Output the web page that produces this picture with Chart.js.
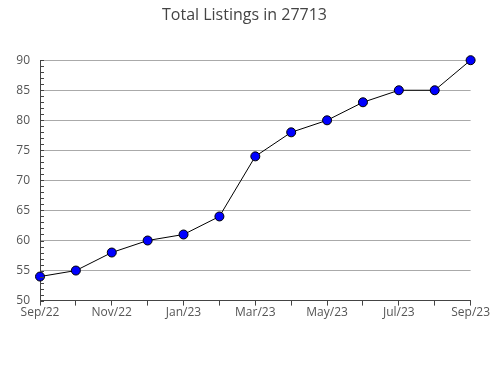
<!DOCTYPE html>
<html>
<head>
<meta charset="utf-8">
<script src="https://cdn.jsdelivr.net/npm/chart.js@4/dist/chart.umd.min.js"></script>
<style>
html,body{margin:0;padding:0;background:#fff;}
#wrap{width:490px;height:380px;position:relative;}
</style>
</head>
<body>
<div id="wrap"><canvas id="c"></canvas></div>
<script>
const months = ["Sep/22","Oct/22","Nov/22","Dec/22","Jan/23","Feb/23","Mar/23","Apr/23","May/23","Jun/23","Jul/23","Aug/23","Sep/23"];
const listings = [54,55,58,60,61,64,74,78,80,83,85,85,90];
const yMin = 50, yMax = 90, yStep = 5, yMinorStep = 1;
const titleText = "Total Listings in 27713";

const minorTicks = {
  id: 'minorTicks',
  afterDraw(chart) {
    const y = chart.scales.y, ctx = chart.ctx, left = chart.chartArea.left;
    ctx.save();
    ctx.strokeStyle = '#444';
    ctx.lineWidth = 1;
    ctx.beginPath();
    for (let v = yMin; v <= yMax; v += yMinorStep) {
      const py = Math.round(y.getPixelForValue(v)) + 0.5;
      ctx.moveTo(left, py);
      ctx.lineTo(left + 4, py);
    }
    ctx.stroke();
    ctx.restore();
  }
};

new Chart(document.getElementById('c'), {
  type: 'line',
  data: {
    labels: months,
    datasets: [{
      data: listings,
      borderColor: '#000',
      borderWidth: 1,
      tension: 0,
      pointBackgroundColor: '#0000ff',
      pointBorderColor: '#000',
      pointBorderWidth: 1,
      pointRadius: 4.5,
      clip: false
    }]
  },
  options: {
    responsive: true,
    maintainAspectRatio: false,
    animation: false,
    layout: { padding: { top: 0, right: 1, bottom: 60, left: 0 } },
    plugins: {
      legend: { display: false },
      tooltip: { enabled: false },
      title: {
        display: true,
        text: titleText,
        color: '#444',
        font: { family: 'Open Sans', size: 16, weight: 'normal' },
        padding: { top: 6, bottom: 35 }
      }
    },
    scales: {
      x: {
        offset: false,
        grid: { drawOnChartArea: false, tickLength: 5, tickColor: '#444', color: '#444' },
        border: { color: '#444' },
        ticks: {
          autoSkip: false, maxRotation: 0, padding: 0,
          color: '#555',
          font: { family: 'Open Sans', size: 12 },
          callback: function(v, i) { return i % 2 === 0 ? months[i] : ''; }
        }
      },
      y: {
        min: yMin, max: yMax,
        grid: { color: '#aaa', drawTicks: false },
        border: { color: '#444' },
        ticks: {
          stepSize: yStep, padding: 10,
          color: '#555',
          font: { family: 'Open Sans', size: 12 }
        },
        afterFit: s => { s.width = 40; }
      }
    }
  },
  plugins: [minorTicks]
});
</script>
</body>
</html>
